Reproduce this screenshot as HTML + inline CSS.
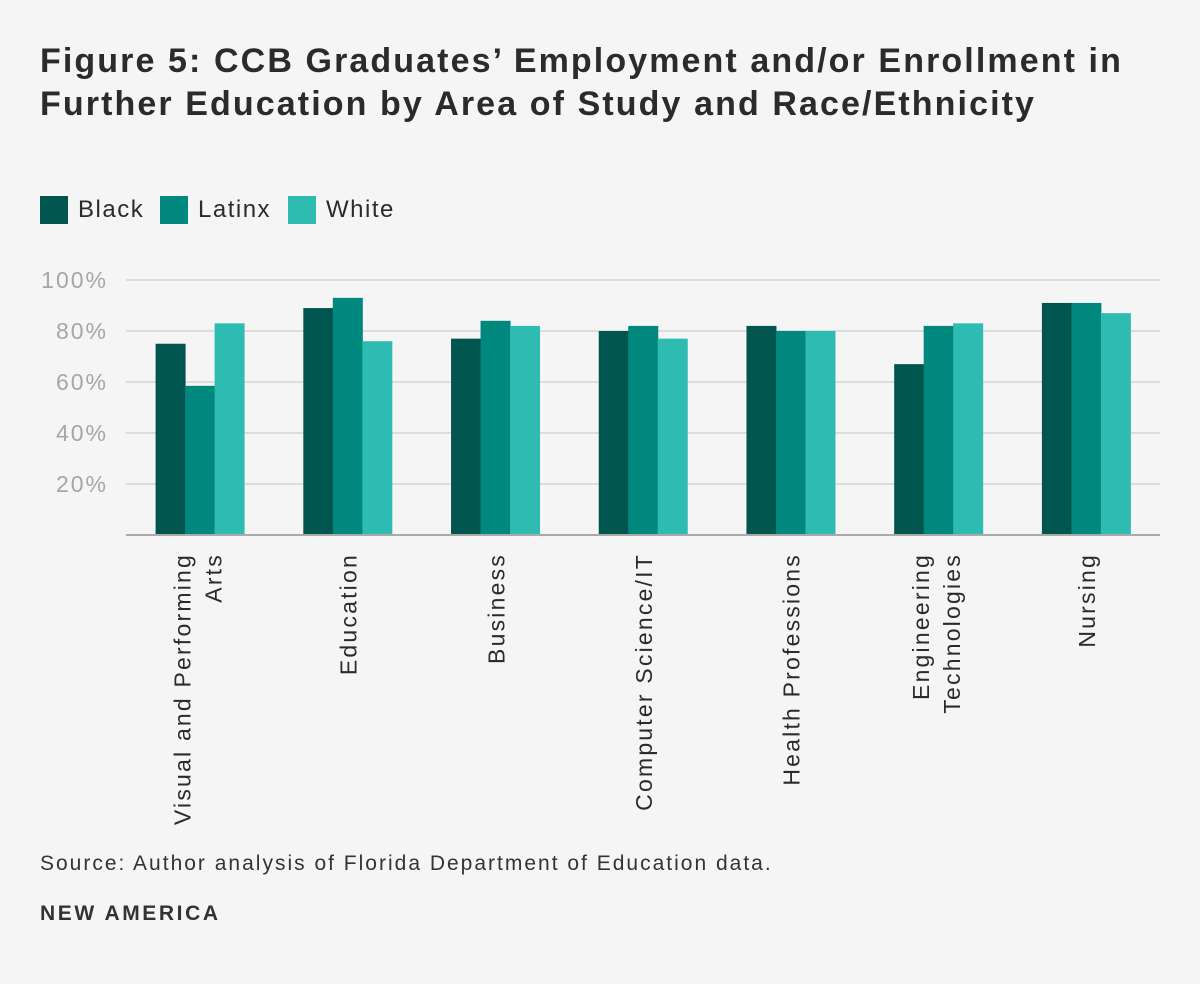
<!DOCTYPE html>
<html><head><meta charset="utf-8"><style>
body{margin:0;background:#f5f5f5;font-family:"Liberation Sans",sans-serif;}
#wrap{position:relative;width:1200px;height:984px;background:#f5f5f5;overflow:hidden}
.title{position:absolute;left:40px;top:40px;font-size:34px;font-weight:bold;color:#2b2b2b;line-height:43px;letter-spacing:2.1px;white-space:nowrap}
.src{position:absolute;left:40px;top:852px;font-size:21px;color:#333;letter-spacing:2px}
.brand{position:absolute;left:40px;top:902px;font-size:21px;font-weight:bold;color:#333;letter-spacing:2.6px}
</style></head><body>
<div id="wrap">
<div class="title">Figure 5: CCB Graduates’ Employment and/or Enrollment in<br>Further Education by Area of Study and Race/Ethnicity</div>
<svg id="chart" width="1200" height="984" style="position:absolute;left:0;top:0"></svg>
<div class="src">Source: Author analysis of Florida Department of Education data.</div>
<div class="brand">NEW AMERICA</div>
</div>
<script>
const categories=[["Visual and Performing","Arts"],["Education"],["Business"],["Computer Science/IT"],["Health Professions"],["Engineering","Technologies"],["Nursing"]];
const seriesNames=["Black","Latinx","White"];
const black=[75,89,77,80,82,67,91];
const latinx=[58.5,93,84,82,80,82,91];
const white=[83,76,82,77,80,83,87];
const ticks=[20,40,60,80,100];
const colors=["#00564f","#00887e","#2ebcb2"];
const NS="http://www.w3.org/2000/svg";
const svg=document.getElementById('chart');
const x0=126,x1=1160,yBase=535,yTop=280;
const y=v=>yBase-(v/100)*(yBase-yTop);
const band=(x1-x0)/categories.length;
const bw=29.5;
function mk(t,a){const e=document.createElementNS(NS,t);for(const k in a)e.setAttribute(k,a[k]);svg.appendChild(e);return e;}
ticks.forEach(t=>{
  const l=mk('line',{x1:x0,x2:x1,y1:y(t),y2:y(t),stroke:'#dcdcdc','stroke-width':2});
  
  
  const tx=mk('text',{x:108,y:y(t)+8,'text-anchor':'end','font-size':23,fill:'#a6a6a6','letter-spacing':2,'font-family':'Liberation Sans, sans-serif'});
  tx.textContent=t+'%';
  
  
});
const series=[black,latinx,white];
categories.forEach((c,i)=>{
  const cx=x0+band*(i+0.5);
  series.forEach((s,j)=>{
    const r=mk('rect',{x:cx-1.5*bw+j*bw,y:y(s[i]),width:bw+0.5,height:yBase-y(s[i]),fill:colors[j]});
    
    
  });
  const n=c.length;
  c.forEach((line,k)=>{
    const lx=cx+9+(k-(n-1)/2)*31-(n>1?3:0);
    const t=mk('text',{x:lx,y:553,'text-anchor':'end','font-size':23,fill:'#2b2b2b','letter-spacing':2.2,transform:`rotate(-90 ${lx} 553)`,'font-family':'Liberation Sans, sans-serif'});
    t.textContent=line;
    
    
  });
});
const ax=mk('line',{x1:x0,x2:x1,y1:yBase,y2:yBase,stroke:'#aaaaaa','stroke-width':2});


const lx=[40,160,288];
seriesNames.forEach((n,j)=>{
  const r=mk('rect',{x:lx[j],y:196,width:28,height:28,fill:colors[j]});
  
  
  const t=mk('text',{x:lx[j]+38,y:217,'font-size':24,fill:'#2b2b2b','letter-spacing':1.5,'font-family':'Liberation Sans, sans-serif'});
  t.textContent=n;
  
  
});
</script>
</body></html>
